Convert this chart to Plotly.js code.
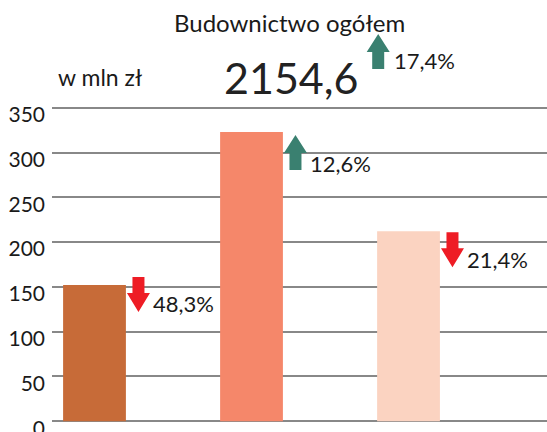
<!DOCTYPE html>
<html>
<head>
<meta charset="utf-8">
<script src="https://cdn.plot.ly/plotly-3.0.1.min.js"></script>
<style>html,body{margin:0;padding:0;background:#fff;}#chart{width:547px;height:432px;}</style>
</head>
<body>
<div id="chart"></div>
<script>
// ---- data ----
const categories = ["A", "B", "C"];
const values = [152, 323, 212];
const changeLabels = ["48,3%", "12,6%", "21,4%"];
const changeDirections = ["down", "up", "down"];
const titleText = "Budownictwo ogółem";
const totalValue = "2154,6";
const totalChange = "17,4%";
const totalDirection = "up";
const unitText = "w mln zł";
const tickValues = [0, 50, 100, 150, 200, 250, 300, 350];

// ---- styles ----
const FONT = "Lato, sans-serif";
const barColors = ["#C76B38", "#F5876A", "#FBD3C1"];
const UP = "#3A8070", DOWN = "#EE1C25";
const TXT = "#1a1a1a";
// per-item pixel placement (arrow top offset from bar top, label offset)
const arrowDy = [8, -3, -1];
const labelDy = [-18, -32, -28];

function arrowPath(dir, dy) {
  const pts = dir === "down"
    ? [[-6,0],[6,0],[6,-16],[11.5,-16],[0,-35],[-11.5,-16],[-6,-16]]
    : [[0,0],[11.5,-18],[6,-18],[6,-35],[-6,-35],[-6,-18],[-11.5,-18]];
  return "M" + pts.map(p => p[0] + "," + (p[1] + dy)).join(" L") + " Z";
}

const shapes = [];
const annotations = [];
categories.forEach((c, i) => {
  const dir = changeDirections[i];
  shapes.push({
    type: "path", xref: "x", yref: "y",
    xsizemode: "pixel", ysizemode: "pixel",
    xanchor: i + 0.28, yanchor: values[i],
    path: arrowPath(dir, arrowDy[i]),
    fillcolor: dir === "down" ? DOWN : UP, line: {width: 0}
  });
  annotations.push({
    xref: "x", yref: "y", x: i + 0.36, y: values[i], yshift: labelDy[i],
    xanchor: "left", yanchor: "middle", showarrow: false,
    text: changeLabels[i], font: {family: FONT, size: 22, color: TXT}
  });
});

// header
annotations.push({xref: "paper", yref: "paper", x: 0.479, y: 1.262, xanchor: "center", yanchor: "middle",
  showarrow: false, text: titleText, font: {family: FONT, size: 24, color: TXT}});
annotations.push({xref: "paper", yref: "paper", x: 0.483, y: 1.09, xanchor: "center", yanchor: "middle",
  showarrow: false, text: totalValue, font: {family: FONT, size: 43, color: "#222"}});
annotations.push({xref: "paper", yref: "paper", x: 0.008, y: 1.09, xanchor: "left", yanchor: "middle",
  showarrow: false, text: unitText, font: {family: FONT, size: 23, color: TXT}});
annotations.push({xref: "paper", yref: "paper", x: 0.687, y: 1.142, xanchor: "left", yanchor: "middle",
  showarrow: false, text: totalChange, font: {family: FONT, size: 22, color: TXT}});
shapes.push({type: "path", xref: "paper", yref: "paper", xsizemode: "pixel", ysizemode: "pixel",
  xanchor: 0.659, yanchor: 1.227, path: arrowPath(totalDirection, 0),
  fillcolor: totalDirection === "up" ? UP : DOWN, line: {width: 0}});

const trace = {
  type: "bar", x: categories, y: values, width: 0.4,
  marker: {color: barColors, line: {width: 0}},
  hoverinfo: "none"
};

const layout = {
  width: 547, height: 432,
  margin: {l: 52, r: 0, t: 106, b: 9},
  paper_bgcolor: "#fff", plot_bgcolor: "#fff",
  showlegend: false,
  xaxis: {range: [-0.2707, 2.882], showticklabels: false, showgrid: false, zeroline: false, showline: false, fixedrange: true},
  yaxis: {range: [-2, 352], tickvals: tickValues, ticktext: tickValues.map(String),
    showgrid: true, gridcolor: "#888", gridwidth: 2, zeroline: false, showline: false,
    ticks: "", ticklabelshift: 7, ticklabelstandoff: 6, ticklabeloverflow: "allow",
    tickfont: {family: FONT, size: 21, color: TXT}, fixedrange: true},
  shapes: shapes, annotations: annotations
};

Plotly.newPlot("chart", [trace], layout, {displayModeBar: false, staticPlot: true});
</script>
</body>
</html>
